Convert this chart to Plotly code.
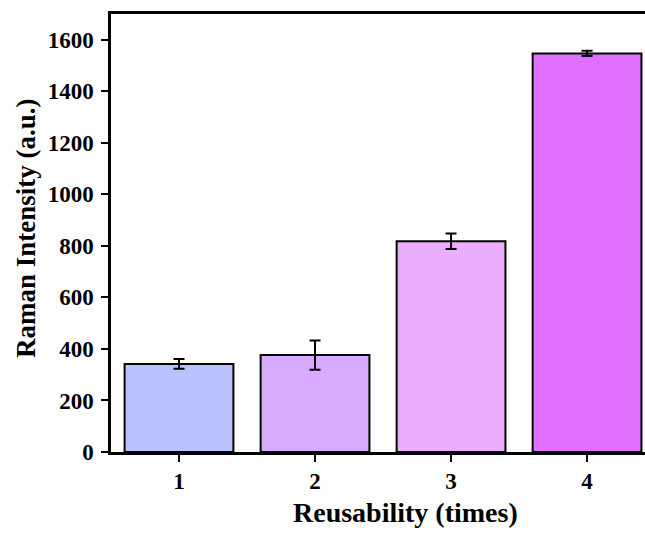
import plotly.graph_objects as go

categories = [1, 2, 3, 4]
values = [342, 376, 818, 1547]
errors = [19, 57, 30, 10]
colors = ["#B9C3FE", "#D9ABFE", "#ECADFE", "#E070FE"]
y_ticks = [0, 200, 400, 600, 800, 1000, 1200, 1400, 1600]

font_family = "Liberation Serif"

fig = go.Figure()
fig.add_trace(go.Bar(
    x=categories, y=values, width=0.8,
    marker=dict(color=colors, line=dict(color="black", width=2)),
    error_y=dict(type="data", array=errors, visible=True,
                 color="black", thickness=2, width=5.5),
))

fig.update_layout(
    width=645, height=540,
    margin=dict(l=111, r=0, t=14, b=88),
    plot_bgcolor="white", paper_bgcolor="white",
    showlegend=False,
    font=dict(family=font_family, color="black"),
    xaxis=dict(
        range=[0.5, 4.426], tickvals=categories, ticktext=[str(c) for c in categories],
        showline=True, linecolor="black", linewidth=2.5, mirror=True,
        ticks="outside", ticklen=7, tickwidth=2, tickcolor="black",
        tickfont=dict(size=23, family=font_family, weight="bold"),
        showgrid=False, zeroline=False, automargin=False,
    ),
    yaxis=dict(
        range=[0, 1700], tickvals=y_ticks,
        showline=True, linecolor="black", linewidth=2.5, mirror=False,
        ticks="outside", ticklen=7, tickwidth=2, tickcolor="black", ticklabelstandoff=3,
        tickfont=dict(size=23, family=font_family, weight="bold"),
        showgrid=False, zeroline=False, automargin=False,
    ),
    annotations=[
        dict(
            text="<b>Reusability (times)</b>", xref="paper", yref="paper",
            x=0.5524, y=-0.137, xanchor="center", yanchor="middle", showarrow=False,
            font=dict(size=28, family=font_family, color="black"),
        ),
        dict(
            text="<b>Raman Intensity (a.u.)</b>", xref="paper", yref="paper",
            x=-0.159, y=0.5114, xanchor="center", yanchor="middle", showarrow=False,
            textangle=-90,
            font=dict(size=27, family=font_family, color="black"),
        ),
    ],
)

fig.write_html("out.html", config={"displayModeBar": False},
               post_script="document.body.style.margin='0';document.body.style.overflow='hidden';")
